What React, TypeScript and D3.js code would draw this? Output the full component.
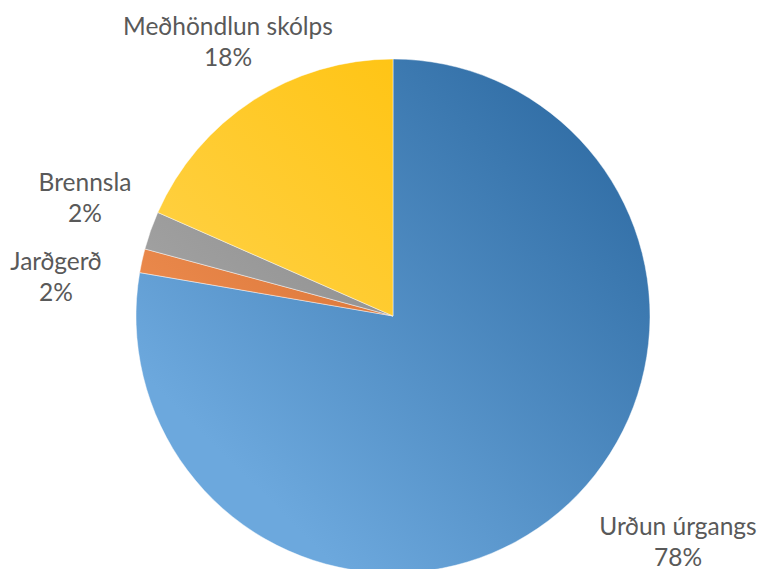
import React from "react";
import * as d3 from "d3";

const categories = ["Urðun úrgangs", "Jarðgerð", "Brennsla", "Meðhöndlun skólps"];
const values = [77.7, 1.5, 2.4, 18.4];

// gradient stops per slice [dark, light]
const gradColors: [string, string][] = [
  ["#2b68a0", "#6ca8dd"],
  ["#c55a1c", "#ef8f52"],
  ["#777777", "#a8a8a8"],
  ["#ffbf00", "#ffd450"],
];

// label layout (center x, first baseline y)
const labelLayout = [
  { x: 678, y: 535 },
  { x: 56, y: 270 },
  { x: 85, y: 191 },
  { x: 228, y: 35 },
];

const W = 761;
const H = 569;
const cx = 393;
const cy = 316;
const R = 257;

export default function App() {
  const total = d3.sum(values);
  const pie = d3
    .pie<number>()
    .sort(null)
    .value((d) => d)
    .startAngle(0)
    .endAngle(2 * Math.PI);
  const arcs = pie(values);
  const arcGen = d3.arc<d3.PieArcDatum<number>>().innerRadius(0).outerRadius(R);

  return (
    <svg
      width={W}
      height={H}
      style={{ position: "absolute", left: 0, top: 0, background: "#fff" }}
    >
      <defs>
        {gradColors.map((c, i) => (
          <linearGradient
            key={i}
            id={`g${i}`}
            gradientUnits="userSpaceOnUse"
            x1={cx + R * 0.75}
            y1={cy - R * 0.75}
            x2={cx - R * 0.75}
            y2={cy + R * 0.75}
          >
            <stop offset="0" stopColor={c[0]} />
            <stop offset="1" stopColor={c[1]} />
          </linearGradient>
        ))}
      </defs>
      <g transform={`translate(${cx},${cy})`}>
        {arcs.map((a, i) => (
          <path
            key={i}
            d={arcGen(a) || ""}
            fill={`url(#g${i})`}
            stroke="#ffffff"
            strokeOpacity={0.6}
            strokeWidth={0.75}
          />
        ))}
      </g>
      {categories.map((c, i) => (
        <text
          key={c}
          x={labelLayout[i].x}
          y={labelLayout[i].y}
          textAnchor="middle"
          fontFamily="Lato, 'Open Sans', sans-serif"
          fontSize={24.5}
          fill="#595959"
        >
          <tspan x={labelLayout[i].x}>{c}</tspan>
          <tspan x={labelLayout[i].x} dy={30.5}>
            {Math.round((values[i] / total) * 100)}%
          </tspan>
        </text>
      ))}
    </svg>
  );
}
